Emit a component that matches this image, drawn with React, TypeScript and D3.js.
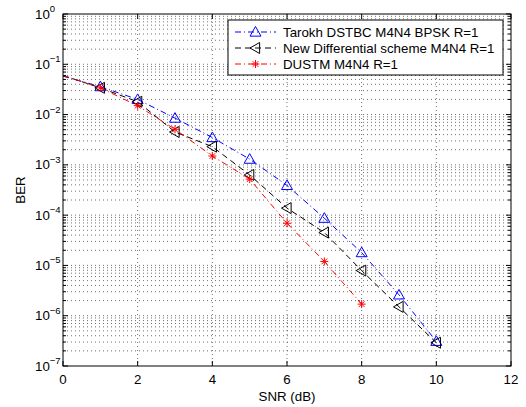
import React from "react";
import * as d3 from "d3";

const snrAll = [0, 1, 2, 3, 4, 5, 6, 7, 8, 9, 10];
const tarokh = [0.058, 0.036, 0.020, 0.0085, 0.0035, 0.0013, 3.9e-4, 8.7e-5, 1.8e-5, 2.6e-6, 3.1e-7];
const newDiff = [0.06, 0.034, 0.018, 0.0045, 0.0023, 6.3e-4, 1.38e-4, 4.5e-5, 7.9e-6, 1.5e-6, 2.9e-7];
const dustm = [0.06, 0.034, 0.015, 0.0051, 0.0015, 5.2e-4, 6.9e-5, 1.2e-5, 1.7e-6];
const xTicks = [0, 2, 4, 6, 8, 10, 12];
const yExps = [0, -1, -2, -3, -4, -5, -6, -7];
const legendLabels = [
  "Tarokh DSTBC M4N4 BPSK R=1",
  "New Differential scheme M4N4 R=1",
  "DUSTM M4N4 R=1",
];

const W = 526, H = 407;
const L = 63, R = 511, T = 14, B = 366;
const FONT = "'Liberation Sans', Arial, sans-serif";
const FS = 13.3;

function Marker({ kind, x, y }: { kind: string; x: number; y: number }) {
  if (kind === "up") {
    const s = 5.5;
    return <path d={`M${x},${y - s} L${x + s},${y + s * 0.75} L${x - s},${y + s * 0.75} Z`} fill="none" stroke="#0000ff" strokeWidth={1} />;
  }
  if (kind === "left") {
    const s = 5.5;
    return <path d={`M${x - s},${y} L${x + s * 0.75},${y - s} L${x + s * 0.75},${y + s} Z`} fill="none" stroke="#000" strokeWidth={1} />;
  }
  const s = 4;
  const d = s * 0.707;
  return (
    <g stroke="#ff0000" strokeWidth={1}>
      <line x1={x - s} y1={y} x2={x + s} y2={y} />
      <line x1={x} y1={y - s} x2={x} y2={y + s} />
      <line x1={x - d} y1={y - d} x2={x + d} y2={y + d} />
      <line x1={x - d} y1={y + d} x2={x + d} y2={y - d} />
    </g>
  );
}

export default function App() {
  const x = d3.scaleLinear().domain([0, 12]).range([L, R]);
  const y = d3.scaleLog().domain([1e-7, 1]).range([B, T]);

  const series = [
    { vals: tarokh, color: "#0000ff", dash: "6 3 1 3", kind: "up" },
    { vals: newDiff, color: "#000000", dash: "6 4", kind: "left" },
    { vals: dustm, color: "#ff0000", dash: "6 3 1 3", kind: "star" },
  ];

  const line = d3.line<number>().x((_, i) => x(snrAll[i])).y((v) => y(v));

  const minorY: number[] = [];
  for (let e = -7; e < 0; e++) for (let m = 2; m <= 9; m++) minorY.push(m * Math.pow(10, e));

  return (
    <svg width={W} height={H} style={{ position: "absolute", left: 0, top: 0, background: "#fff" }} fontFamily={FONT}>
      <rect x={0} y={0} width={W} height={H} fill="#fff" />
      {/* grid */}
      <g stroke="#000" strokeWidth={0.7} strokeDasharray="1 3" opacity={0.8}>
        {minorY.map((v, i) => (
          <line key={"m" + i} x1={L} x2={R} y1={y(v)} y2={y(v)} />
        ))}
        {yExps.slice(1, -1).map((e) => (
          <line key={"M" + e} x1={L} x2={R} y1={y(Math.pow(10, e))} y2={y(Math.pow(10, e))} />
        ))}
        {xTicks.slice(1, -1).map((t) => (
          <line key={"x" + t} x1={x(t)} x2={x(t)} y1={T} y2={B} />
        ))}
      </g>
      {/* series */}
      {series.map((s, si) => (
        <g key={si}>
          <path d={line(s.vals) || ""} fill="none" stroke={s.color} strokeWidth={1} strokeDasharray={s.dash} />
          {s.vals.map((v, i) => (i === 0 ? null : <Marker key={i} kind={s.kind} x={x(snrAll[i])} y={y(v)} />))}
        </g>
      ))}
      {/* axes box and ticks */}
      <g stroke="#000" strokeWidth={1}>
        <rect x={L} y={T} width={R - L} height={B - T} fill="none" />
        {xTicks.map((t) => (
          <g key={"xt" + t}>
            <line x1={x(t)} x2={x(t)} y1={B} y2={B - 5} />
            <line x1={x(t)} x2={x(t)} y1={T} y2={T + 5} />
          </g>
        ))}
        {yExps.map((e) => (
          <g key={"yt" + e}>
            <line x1={L} x2={L + 5} y1={y(Math.pow(10, e))} y2={y(Math.pow(10, e))} />
            <line x1={R} x2={R - 5} y1={y(Math.pow(10, e))} y2={y(Math.pow(10, e))} />
          </g>
        ))}
        {minorY.map((v, i) => (
          <g key={"ym" + i}>
            <line x1={L} x2={L + 3} y1={y(v)} y2={y(v)} />
            <line x1={R} x2={R - 3} y1={y(v)} y2={y(v)} />
          </g>
        ))}
      </g>
      {/* tick labels */}
      <g fontSize={FS} fill="#000">
        {xTicks.map((t) => (
          <text key={"xl" + t} x={x(t)} y={383.5} textAnchor="middle">{t}</text>
        ))}
        {yExps.map((e) => (
          <text key={"yl" + e} x={35} y={y(Math.pow(10, e)) + 4.5}>
            10
            <tspan dy={-6.5} fontSize={9.5}>{e === 0 ? "0" : "\u2212" + Math.abs(e)}</tspan>
          </text>
        ))}
      </g>
      <text x={(L + R) / 2} y={401} textAnchor="middle" fontSize={FS}>SNR (dB)</text>
      <text transform={`translate(25,${(T + B) / 2}) rotate(-90)`} textAnchor="middle" fontSize={FS}>BER</text>
      {/* legend */}
      <g>
        <rect x={228} y={20} width={275} height={55} fill="#fff" stroke="#000" strokeWidth={1} />
        {series.map((s, i) => {
          const ly = 32 + i * 16;
          return (
            <g key={"lg" + i}>
              <line x1={235} x2={276} y1={ly} y2={ly} stroke={s.color} strokeWidth={1} strokeDasharray={s.dash} />
              <Marker kind={s.kind} x={255.5} y={ly} />
              <text x={283} y={ly + 4.5} fontSize={FS}>{legendLabels[i]}</text>
            </g>
          );
        })}
      </g>
    </svg>
  );
}
